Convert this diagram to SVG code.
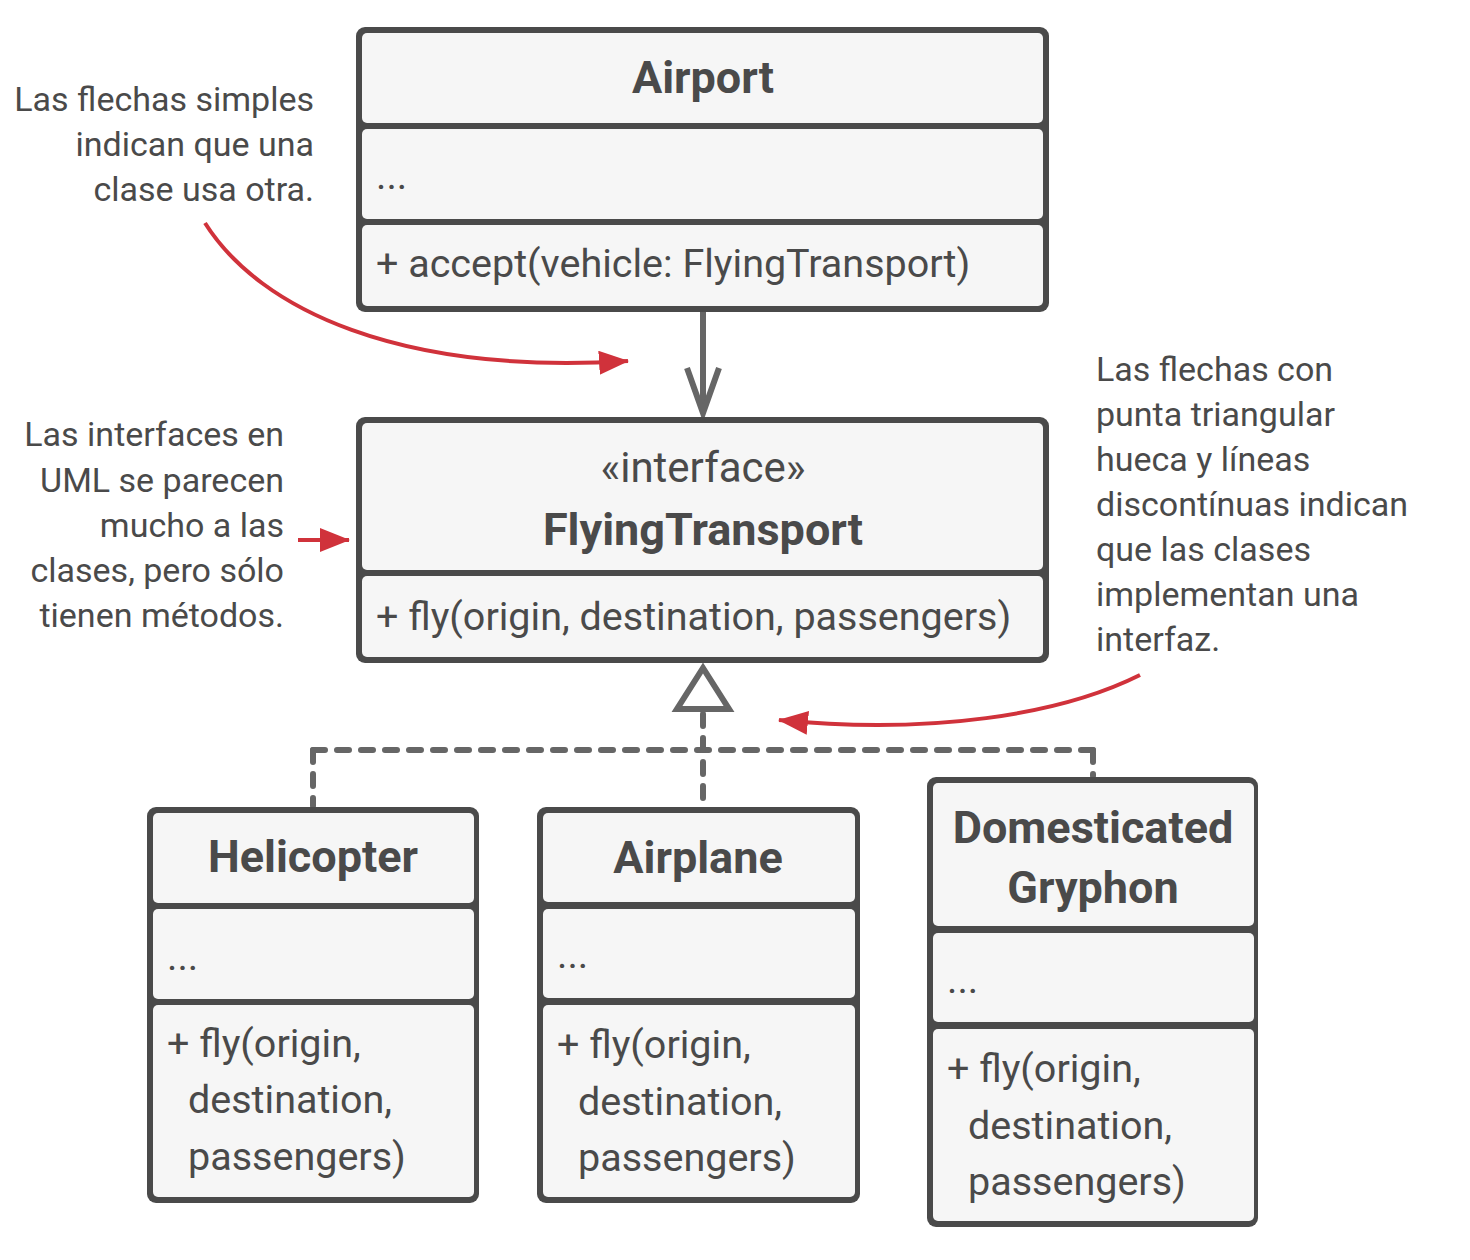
<svg xmlns="http://www.w3.org/2000/svg" width="1470" height="1260" viewBox="0 0 1470 1260">
  <defs>
    <style>
      .frame { fill: #4a4a4a; }
      .cell { fill: #f6f6f6; }
      .title { font-family: Roboto, "Noto Sans", sans-serif; font-weight: bold; font-size: 45px; fill: #4a4a4a; text-anchor: middle; }
      .stereo { font-family: Roboto, "Noto Sans", sans-serif; font-size: 42px; fill: #4a4a4a; text-anchor: middle; }
      .member { font-family: Roboto, "Noto Sans", sans-serif; font-size: 39.5px; fill: #4a4a4a; }
      .note { font-family: Roboto, "Noto Sans", sans-serif; font-size: 34px; fill: #4a4a4a; }
      .note-r { text-anchor: end; }
      .solid { stroke: #666666; stroke-width: 6; fill: none; }
      .dashed { stroke: #666666; stroke-width: 6; fill: none; stroke-dasharray: 12 12; stroke-linecap: round; }
      .hint { stroke: #d0323b; stroke-width: 4; fill: none; }
    </style>
    <marker id="redHead" markerUnits="userSpaceOnUse" markerWidth="32" markerHeight="26" refX="29" refY="12" orient="auto">
      <polygon points="0,0 30,12 0,24" fill="#d0323b"/>
    </marker>
  </defs>

  <!-- Annotations -->
  <g id="note-uses">
    <text class="note note-r" x="314" y="111">Las flechas simples</text>
    <text class="note note-r" x="314" y="156">indican que una</text>
    <text class="note note-r" x="314" y="201">clase usa otra.</text>
  </g>
  <g id="note-interface">
    <text class="note note-r" x="284" y="446">Las interfaces en</text>
    <text class="note note-r" x="284" y="492">UML se parecen</text>
    <text class="note note-r" x="284" y="537">mucho a las</text>
    <text class="note note-r" x="284" y="582">clases, pero sólo</text>
    <text class="note note-r" x="284" y="627">tienen métodos.</text>
  </g>
  <g id="note-implements">
    <text class="note" x="1096" y="381">Las flechas con</text>
    <text class="note" x="1096" y="426">punta triangular</text>
    <text class="note" x="1096" y="471">hueca y líneas</text>
    <text class="note" x="1096" y="516">discontínuas indican</text>
    <text class="note" x="1096" y="561">que las clases</text>
    <text class="note" x="1096" y="606">implementan una</text>
    <text class="note" x="1096" y="651">interfaz.</text>
  </g>

  <!-- Connectors -->
  <g id="connectors">
    <!-- dependency: Airport uses FlyingTransport -->
    <line class="solid" x1="703" y1="312" x2="703" y2="413"/>
    <polyline class="solid" points="687,368 703,413 719,368" stroke-linejoin="miter"/>
    <!-- realization lines -->
    <line class="dashed" x1="313" y1="750" x2="1093" y2="750"/>
    <line class="dashed" x1="313" y1="750" x2="313" y2="806"/>
    <line class="dashed" x1="703" y1="714" x2="703" y2="806"/>
    <line class="dashed" x1="1093" y1="750" x2="1093" y2="776"/>
    <polygon class="solid" points="703,668 677,709 729,709" fill="#ffffff"/>
    <!-- annotation pointers -->
    <path class="hint" d="M205,223 C260,310 400,375 628,361" marker-end="url(#redHead)"/>
    <path class="hint" d="M298,540 L349,540" marker-end="url(#redHead)"/>
    <path class="hint" d="M1140,675 C1060,715 930,735 779,720" marker-end="url(#redHead)"/>
  </g>

  <!-- Airport -->
  <g id="airport">
    <rect class="frame" x="356" y="27" width="693" height="285" rx="9"/>
    <rect class="cell" x="362" y="33" width="681" height="90" rx="5"/>
    <rect class="cell" x="362" y="129" width="681" height="90" rx="5"/>
    <rect class="cell" x="362" y="225" width="681" height="81" rx="5"/>
    <text class="title" x="703" y="93">Airport</text>
    <text class="member" x="376" y="189">...</text>
    <text class="member" x="376" y="277">+ accept(vehicle: FlyingTransport)</text>
  </g>

  <!-- FlyingTransport interface -->
  <g id="flying-transport">
    <rect class="frame" x="356" y="417" width="693" height="246" rx="9"/>
    <rect class="cell" x="362" y="423" width="681" height="147" rx="5"/>
    <rect class="cell" x="362" y="576" width="681" height="81" rx="5"/>
    <text class="stereo" x="703" y="482">«interface»</text>
    <text class="title" x="703" y="545">FlyingTransport</text>
    <text class="member" x="376" y="630">+ fly(origin, destination, passengers)</text>
  </g>

  <!-- Helicopter -->
  <g id="helicopter">
    <rect class="frame" x="147" y="807" width="332" height="396" rx="9"/>
    <rect class="cell" x="153" y="813" width="321" height="90" rx="5"/>
    <rect class="cell" x="153" y="909" width="321" height="90" rx="5"/>
    <rect class="cell" x="153" y="1005" width="321" height="192" rx="5"/>
    <text class="title" x="313" y="872">Helicopter</text>
    <text class="member" x="167" y="970">...</text>
    <text class="member" x="167" y="1057">+ fly(origin,</text>
    <text class="member" x="188" y="1113">destination,</text>
    <text class="member" x="188" y="1170">passengers)</text>
  </g>

  <!-- Airplane -->
  <g id="airplane">
    <rect class="frame" x="537" y="807" width="323" height="396" rx="9"/>
    <rect class="cell" x="543" y="813" width="312" height="89" rx="5"/>
    <rect class="cell" x="543" y="909" width="312" height="89" rx="5"/>
    <rect class="cell" x="543" y="1005" width="312" height="192" rx="5"/>
    <text class="title" x="698" y="873">Airplane</text>
    <text class="member" x="557" y="968">...</text>
    <text class="member" x="557" y="1058">+ fly(origin,</text>
    <text class="member" x="578" y="1115">destination,</text>
    <text class="member" x="578" y="1171">passengers)</text>
  </g>

  <!-- Domesticated Gryphon -->
  <g id="domesticated-gryphon">
    <rect class="frame" x="927" y="777" width="331" height="450" rx="9"/>
    <rect class="cell" x="933" y="783" width="321" height="143" rx="5"/>
    <rect class="cell" x="933" y="933" width="321" height="89" rx="5"/>
    <rect class="cell" x="933" y="1029" width="321" height="192" rx="5"/>
    <text class="title" x="1093" y="843">Domesticated</text>
    <text class="title" x="1093" y="903">Gryphon</text>
    <text class="member" x="947" y="993">...</text>
    <text class="member" x="947" y="1082">+ fly(origin,</text>
    <text class="member" x="968" y="1139">destination,</text>
    <text class="member" x="968" y="1195">passengers)</text>
  </g>
</svg>
